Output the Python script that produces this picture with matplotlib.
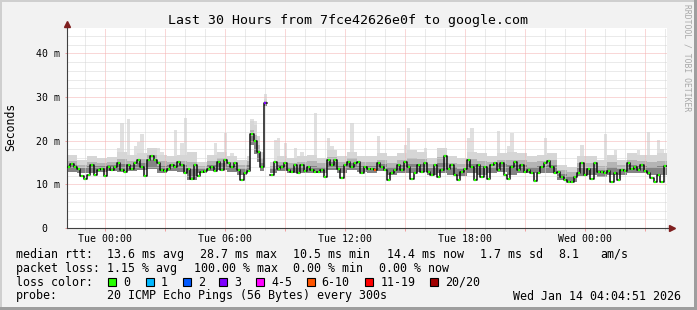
import numpy as np
import pandas as pd
import matplotlib
matplotlib.use("Agg")
import matplotlib.pyplot as plt
import matplotlib.dates as mdates
from matplotlib.patches import Rectangle
from matplotlib.ticker import MultipleLocator, FuncFormatter

plt.rcParams["font.family"] = ["DejaVu Sans Mono"]

# ---- data (ms), one value per 10 minutes, 30 hours ----
START = "2026-01-12 22:04:51"
median_ms = [
    14.0, 14.6, 14.0, 13.6, 12.0, 11.2, 12.2, 14.4, 12.1, 13.2,
    13.6, 12.0, 14.0, 13.3, 14.0, 14.8, 13.3, 12.9, 14.4, 13.6,
    14.8, 15.6, 14.0, 11.8, 15.6, 16.4, 15.6, 14.8, 13.3, 13.1,
    13.6, 14.4, 14.0, 15.2, 14.4, 12.5,
    13.6, 11.3, 14.4, 11.8, 12.9, 13.0, 13.6, 14.0, 13.0, 15.2,
    13.3, 15.6, 14.8, 14.0, 14.8, 13.3, 11.1, 12.5, 13.0, 21.5,
    20.0, 17.5, 14.0, 28.7, np.nan, 12.1, 15.0, 13.6, 14.0, 14.8,
    13.3, 12.9, 14.4, 12.5, 14.4, 13.0,
    14.0, 13.3, 12.9, 12.9, 13.3, 11.7, 15.6, 14.4, 15.6, 13.6,
    11.5, 14.4, 15.2, 14.0, 14.8, 15.2, 12.5, 14.0, 13.6, 13.6,
    13.3, 14.8, 14.0, 13.3, 10.9, 12.5, 13.3, 14.4, 13.3, 15.2,
    14.0, 11.3, 12.5, 14.4, 12.9, 14.8,
    12.9, 12.1, 14.4, 11.7, 13.3, 16.4, 13.6, 14.4, 12.1, 10.9,
    12.9, 13.6, 15.6, 14.0, 10.9, 14.4, 11.7, 14.0, 11.3, 14.4,
    14.8, 13.3, 14.8, 12.1, 11.3, 14.0, 15.2, 13.3, 14.4, 12.9,
    13.3, 12.5, 10.7, 12.5, 14.0, 14.8,
    15.3, 14.0, 12.5, 12.9, 11.7, 10.9, 10.5, 10.5, 11.7, 12.5,
    14.8, 12.1, 13.6, 11.3, 14.8, 12.9, 12.9, 12.7, 13.0, 10.5,
    12.5, 10.9, 13.3, 13.0, 14.8, 13.6, 14.0, 13.3, 14.4, 13.0,
    12.7, 11.5, 10.5, 12.1, 10.5, 14.2,
]

# smoke band (dark part), one value per 30 minutes
smoke_hi_30m = [
    16.8, 15.5, 16.5, 16.0, 16.3, 17.5, 16.7, 17.1, 18.3, 16.7, 16.4, 16.7,
    17.5, 15.2, 16.7, 17.5, 16.4, 15.6, 23.7, 19.0, 15.2, 16.4, 16.0, 16.4,
    16.7, 16.0, 17.9, 16.4, 17.5, 16.4, 16.4, 17.1, 16.4, 17.1, 17.9, 17.5,
    16.0, 18.3, 16.4, 16.0, 17.5, 17.1, 16.4, 17.1, 17.5, 17.1, 16.4, 16.7,
    17.1, 14.4, 14.0, 16.4, 16.4, 15.6, 16.7, 15.6, 17.1, 16.7, 16.7, 17.1,
]
smoke_lo_30m = [
    12.9, 12.5, 12.5, 12.9, 13.0, 12.9, 13.0, 13.3, 13.6, 12.7, 13.0, 12.9,
    11.0, 12.5, 13.0, 13.3, 12.9, 12.1, 14.0, 13.0, 12.5, 13.0, 12.7, 12.5,
    12.7, 12.7, 13.3, 12.7, 13.3, 12.9, 12.7, 13.0, 12.2, 12.7, 12.5, 12.9,
    12.1, 12.7, 12.2, 11.9, 12.7, 12.2, 12.5, 12.9, 12.2, 12.7, 12.5, 12.7,
    12.7, 10.9, 10.5, 11.9, 12.1, 11.7, 12.2, 12.1, 12.7, 12.5, 12.1, 12.1,
]
# finer smoke readings around the 07:00 spike (10 min index -> ms)
hi_fix = {54: 16.5, 55: 24.4, 56: 23.5, 57: 21.0, 58: 17.5, 59: 29.5}
lo_fix = {54: 12.9, 55: 19.0, 56: 17.0, 57: 15.0, 58: 13.0, 59: 28.0}

# light smoke spikes (10 min index, top in ms)
spike_idx = [15, 16, 18, 20, 21, 22, 27, 28, 32, 34, 35,
             38, 44, 47, 49, 55, 56, 57, 59, 62, 63, 65, 68, 70,
             74, 78, 79, 84, 85, 93, 101, 102, 105, 107,
             113, 120, 121, 126, 129, 132, 133, 143,
             146, 154, 161, 164, 168, 171, 174, 177, 178]
spike_ms = [18.3, 24.0, 25.0, 18.7, 19.8, 21.5, 18.3, 17.5, 22.4, 19.5, 25.3,
            17.5, 19.5, 21.8, 17.1, 25.0, 24.5, 21.0, 30.8, 20.2, 20.6, 19.5, 18.3, 17.5,
            26.4, 20.6, 18.7, 17.1, 24.1, 21.0, 19.0, 23.0, 17.5, 18.3,
            18.3, 20.6, 23.0, 16.4, 22.2, 18.7, 21.8, 20.5,
            17.1, 19.1, 21.6, 17.9, 16.4, 17.9, 22.0, 20.2, 18.0]

# packet loss bucket per sample (all others 0)
loss_idx = [59, 92]
loss_bucket = [3, 5]

loss_labels = ["0", "1", "2", "3", "4-5", "6-10", "11-19", "20/20"]
loss_colors = ["#26ff00", "#00b8ff", "#0059ff", "#7e00ff", "#ff00ff",
               "#ff5500", "#ff0000", "#a10000"]

title = "Last 30 Hours from 7fce42626e0f to google.com"
rtt_stats = ["13.6 ms avg", "28.7 ms max", "10.5 ms min", "14.4 ms now", "1.7 ms sd", "8.1", "am/s"]
loss_stats = ["1.15 % avg", "100.00 % max", "0.00 % min", "0.00 % now"]
probe_text = "20 ICMP Echo Pings (56 Bytes) every 300s"
stamp_text = "Wed Jan 14 04:04:51 2026"

# ---- prepare arrays ----
W, H = 697, 310
n = len(median_ms)
med = np.array(median_ms, dtype=float)
hi = np.repeat(smoke_hi_30m, 3).astype(float)
lo = np.repeat(smoke_lo_30m, 3).astype(float)
for k, v in hi_fix.items():
    hi[k] = v
for k, v in lo_fix.items():
    lo[k] = v
peak = hi.copy()
peak[spike_idx] = np.maximum(hi[spike_idx], spike_ms)
gap = np.isnan(med)
for arr in (hi, lo, peak):
    arr[gap] = np.nan

edges = mdates.date2num(pd.date_range(START, periods=n + 1, freq="10min").to_pydatetime())
xs = np.repeat(edges, 2)[1:-1]


def steps(a):
    return np.repeat(a, 2)


fig = plt.figure(figsize=(W / 100, H / 100), dpi=100, facecolor="#f2f2f2")
ax = fig.add_axes([67 / W, 1 - 228 / H, 600 / W, 200 / H], facecolor="white")

# smoke
ax.fill_between(xs, steps(lo), steps(peak), color="#e0e0e0", lw=0, zorder=1)
for frac, col in [(1.0, "#d6d6d6"), (0.65, "#b4b4b4"), (0.4, "#848484")]:
    ax.fill_between(xs, steps(lo), steps(lo + frac * (hi - lo)), color=col, lw=0, zorder=1)

# median: black step line with loss-coloured dashes at each sample
ax.plot(xs, steps(med), color="#111111", lw=1.1, zorder=3)
cols = [loss_colors[0]] * n
for i, b in zip(loss_idx, loss_bucket):
    cols[i] = loss_colors[b]
step = edges[1] - edges[0]
ax.hlines(med, edges[:-1] + 0.2 * step, edges[1:] - 0.2 * step, colors=cols, lw=1.6, zorder=4)

ax.set_xlim(edges[0], edges[-1])
ax.set_ylim(0, 45.8)

# grid
ax.set_axisbelow("line")
ax.xaxis.set_major_locator(mdates.HourLocator(byhour=range(0, 24, 3)))
ax.xaxis.set_minor_locator(mdates.HourLocator())
ax.yaxis.set_major_locator(MultipleLocator(10))
ax.yaxis.set_minor_locator(MultipleLocator(2))
ax.grid(True, which="major", color="#f4b0b0", linestyle=(0, (1, 1)), lw=0.72)
ax.grid(True, which="minor", color="#d6d6d6", linestyle=(0, (1, 1)), lw=0.72)


def xfmt(v, pos):
    d = mdates.num2date(v)
    return d.strftime("%a %H:%M") if d.hour % 6 == 0 else ""


def yfmt(v, pos):
    return "0  " if v == 0 else "{:.0f} m".format(v)


ax.xaxis.set_major_formatter(FuncFormatter(xfmt))
ax.yaxis.set_major_formatter(FuncFormatter(yfmt))
ax.tick_params(axis="x", which="major", length=2, width=0.72, color="#f0a0a0", pad=2.5, labelsize=7.1)
ax.tick_params(axis="x", which="minor", length=1.5, width=0.72, color="#cccccc")
ax.tick_params(axis="y", which="major", length=1.5, width=0.72, color="#f0a0a0", pad=3.5, labelsize=7.1)
ax.tick_params(axis="y", which="minor", length=0)

for s in ["top", "right"]:
    ax.spines[s].set_visible(False)
for s in ["left", "bottom"]:
    ax.spines[s].set_color("#404040")
    ax.spines[s].set_linewidth(0.8)

# axis arrows
ax.plot([0, 0], [1, 1.02], transform=ax.transAxes, clip_on=False, color="#404040", lw=0.8)
ax.plot([1, 1.008], [0, 0], transform=ax.transAxes, clip_on=False, color="#404040", lw=0.8)
ax.plot([0], [1.022], marker="^", ms=4, color="#7f1f1f", transform=ax.transAxes, clip_on=False)
ax.plot([1.009], [0], marker=">", ms=4, color="#7f1f1f", transform=ax.transAxes, clip_on=False)


def px(x, y):
    return x / W, 1 - y / H


# frame shading
fig.add_artist(Rectangle((0, 1 - 2 / H), 1, 2 / H, transform=fig.transFigure, color="#cfcfcf", lw=0))
fig.add_artist(Rectangle((0, 0), 2 / W, 1, transform=fig.transFigure, color="#cfcfcf", lw=0))
fig.add_artist(Rectangle((1 - 3 / W, 0), 3 / W, 1, transform=fig.transFigure, color="#9e9e9e", lw=0))
fig.add_artist(Rectangle((0, 0), 1, 3 / H, transform=fig.transFigure, color="#9e9e9e", lw=0))

fig.text(*px(348, 24), title, ha="center", va="baseline", fontsize=9.5)
fig.text(*px(11, 127), "Seconds", rotation=90, ha="center", va="center", fontsize=8.3)
fig.text(*px(687, 58), "RRDTOOL / TOBI OETIKER", rotation=270, ha="center", va="center",
         fontsize=5.8, color="#a8a8a8")

# legend
lg = dict(fontsize=8.4, va="baseline", ha="left")
fig.text(*px(16, 257.7), "median rtt:", **lg)
for x, t in zip([107, 200, 293, 387, 480, 558, 600], rtt_stats):
    fig.text(*px(x, 257.7), t, **lg)
fig.text(*px(16, 271.7), "packet loss:", **lg)
for x, t in zip([107, 194, 293, 379], loss_stats):
    fig.text(*px(x, 271.7), t, **lg)
fig.text(*px(16, 285.6), "loss color:", **lg)
box_x = [108.3, 145.7, 182.7, 219.3, 256, 306.7, 365.3, 430]
for x, lab, col in zip(box_x, loss_labels, loss_colors):
    fig.add_artist(Rectangle(px(x, 286), 8 / W, 8 / H, transform=fig.transFigure,
                             facecolor=col, edgecolor="black", lw=0.8))
    fig.text(*px(x + 15, 285.6), lab, **lg)
fig.text(*px(16, 299.5), "probe:", **lg)
fig.text(*px(107, 299.5), probe_text, **lg)
fig.text(*px(513, 299.5), stamp_text, **lg)

fig.savefig("out.png", dpi=100, facecolor=fig.get_facecolor())
